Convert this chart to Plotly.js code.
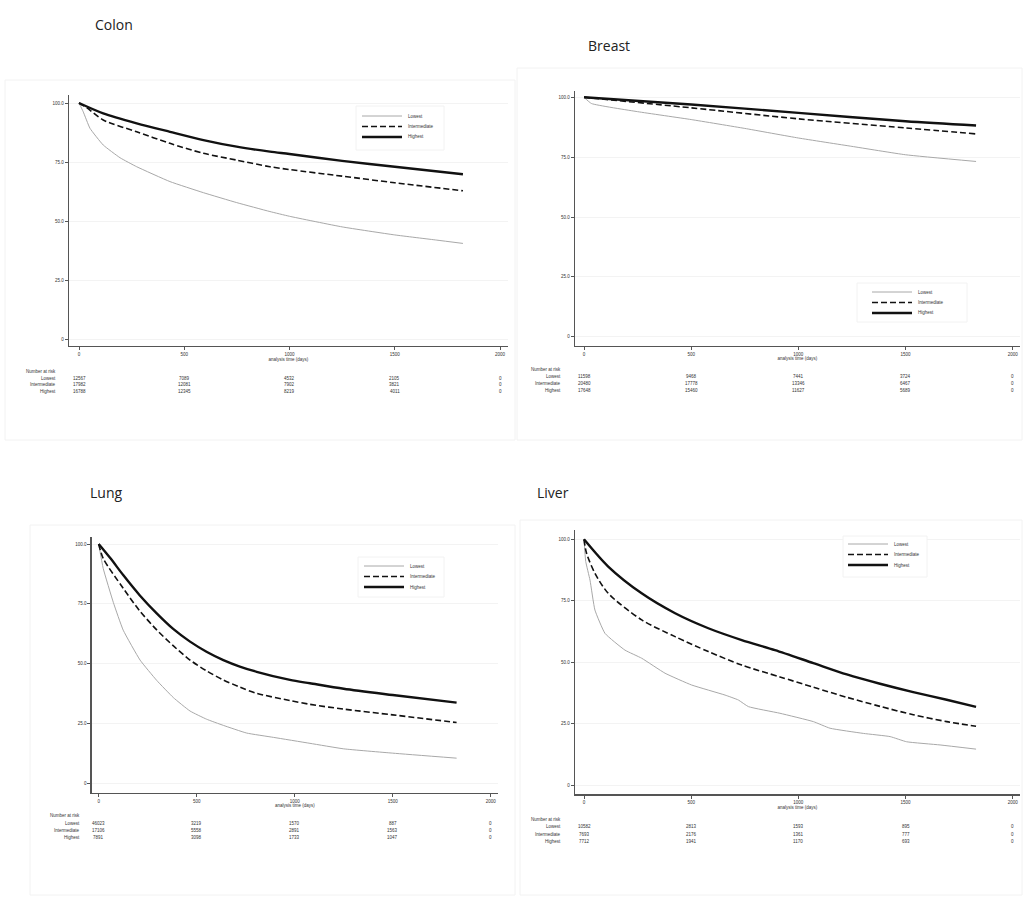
<!DOCTYPE html>
<html><head><meta charset="utf-8">
<script src="https://cdn.plot.ly/plotly-3.0.1.min.js"></script>
<style>html,body{margin:0;padding:0;background:#fff}#chart{width:1025px;height:902px}</style>
</head><body><div id="chart"></div>
<script>
// ---------- DATA ----------
const panelTitles = ["Colon", "Breast", "Lung", "Liver"];
const seriesNames = ["Lowest", "Intermediate", "Highest"];
const xTickVals = [0, 500, 1000, 1500, 2000];
const xTickText = ["0", "500", "1000", "1500", "2000"];
const yTickVals = [0, 25, 50, 75, 100];
const yTickText = ["0", "25.0", "50.0", "75.0", "100.0"];
const xTitleText = "analysis time (days)";
const riskHeader = "Number at risk";

// Colon
const colonLowDays  = [0, 20, 52, 115, 195, 274, 432, 591, 749, 907, 1000, 1250, 1500, 1700, 1824];
const colonLowSurv  = [100, 96.3, 89.3, 82.2, 76.8, 73, 66.7, 62, 57.8, 54, 52, 47.5, 44.1, 41.9, 40.5];
const colonMidDays  = [0, 40, 115, 274, 432, 591, 749, 907, 1000, 1250, 1500, 1824];
const colonMidSurv  = [100, 97.8, 92.8, 87.8, 82.9, 78.7, 75.8, 73, 71.8, 69, 66.2, 62.8];
const colonHighDays = [0, 115, 274, 432, 591, 749, 907, 1000, 1250, 1500, 1824];
const colonHighSurv = [100, 95.6, 91.4, 87.8, 84.3, 81.5, 79.4, 78.4, 75.5, 73, 69.8];
const colonRiskLow  = ["12567", "7089", "4532", "2105", "0"];
const colonRiskMid  = ["17982", "12081", "7902", "3821", "0"];
const colonRiskHigh = ["16788", "12345", "8219", "4011", "0"];

// Breast
const breastLowDays  = [0, 35, 250, 500, 750, 1000, 1250, 1500, 1829];
const breastLowSurv  = [100, 97.4, 94, 90.7, 87, 83, 79.5, 76, 73.2];
const breastMidDays  = [0, 500, 1000, 1500, 1829];
const breastMidSurv  = [100, 95.6, 91, 87.2, 84.7];
const breastHighDays = [0, 500, 1000, 1500, 1829];
const breastHighSurv = [100, 97, 93.5, 90, 88.2];
const breastRiskLow  = ["11598", "9468", "7441", "3724", "0"];
const breastRiskMid  = ["20480", "17778", "13346", "6467", "0"];
const breastRiskHigh = ["17648", "15460", "11627", "5689", "0"];

// Lung
const lungLowDays  = [0, 23, 75, 125, 211, 296, 381, 466, 550, 636, 755, 891, 1078, 1250, 1500, 1826];
const lungLowSurv  = [100, 89.8, 75.5, 64, 51.5, 43, 35.8, 30.2, 26.8, 24.2, 21, 19.2, 16.7, 14.4, 12.6, 10.5];
const lungMidDays  = [0, 23, 125, 210, 296, 380, 466, 550, 636, 720, 806, 976, 1078, 1250, 1500, 1826];
const lungMidSurv  = [100, 94, 81.5, 72, 64.1, 57.5, 51.5, 47, 43.2, 40.2, 37.6, 34.6, 33, 31, 28.6, 25.4];
const lungHighDays = [0, 60, 125, 210, 296, 380, 466, 550, 636, 720, 806, 976, 1078, 1250, 1500, 1826];
const lungHighSurv = [100, 94, 87, 78.5, 71, 64.5, 59.2, 55, 51.5, 48.8, 46.6, 43.2, 41.8, 39.5, 36.9, 33.7];
const lungRiskLow  = ["46023", "3219", "1570", "887", "0"];
const lungRiskMid  = ["17106", "5558", "2891", "1563", "0"];
const lungRiskHigh = ["7891", "3098", "1733", "1047", "0"];

// Liver
const liverLowDays  = [0, 8, 28, 51, 98, 191, 269, 378, 502, 658, 720, 767, 914, 1070, 1148, 1303, 1428, 1505, 1661, 1829];
const liverLowSurv  = [100, 91, 83.4, 71.2, 61.7, 54.9, 51.6, 45.5, 40.7, 36.6, 34.6, 31.9, 29.2, 25.8, 23.1, 21, 19.7, 17.6, 16.3, 14.6];
const liverMidDays  = [0, 12, 51, 113, 269, 425, 580, 736, 914, 1070, 1226, 1381, 1536, 1692, 1829];
const liverMidSurv  = [100, 94.3, 86.2, 78, 67.2, 60.4, 54.3, 48.8, 44, 39.8, 35.7, 32, 28.6, 25.8, 23.9];
const liverHighDays = [0, 113, 269, 425, 580, 736, 891, 1070, 1226, 1381, 1536, 1692, 1829];
const liverHighSurv = [100, 88.9, 78, 69.9, 63.8, 59, 54.9, 49.6, 45, 41.2, 37.8, 34.7, 31.8];
const liverRiskLow  = ["10582", "2813", "1593", "895", "0"];
const liverRiskMid  = ["7693", "2176", "1361", "777", "0"];
const liverRiskHigh = ["7712", "1941", "1170", "693", "0"];

// ---------- LAYOUT / STYLE ----------
const W = 1025, H = 902;
const panels = [
  {days:[colonLowDays,colonMidDays,colonHighDays], surv:[colonLowSurv,colonMidSurv,colonHighSurv], risk:[colonRiskLow,colonRiskMid,colonRiskHigh],
   g:{xL:69,xR:508,x0:79,x2000:500,yT:95,yB:346,y0:339,y100:103},
   title:{x:93,y:25}, box:{x0:5,x1:515,y0:80,y1:440},
   legend:{x:362,y:116,dy:10.5,box:[356,106,444,150]}, risk_:{labelX:58,header:372,rows:[378.5,385,391.7]}},
  {days:[breastLowDays,breastMidDays,breastHighDays], surv:[breastLowSurv,breastMidSurv,breastHighSurv], risk:[breastRiskLow,breastRiskMid,breastRiskHigh],
   g:{xL:575,xR:1020,x0:584,x2000:1012.7,yT:91,yB:345.7,y0:336.7,y100:97.3},
   title:{x:586,y:45}, box:{x0:517,x1:1022,y0:68,y1:440},
   legend:{x:872,y:292,dy:10.5,box:[857,283,967,322]}, risk_:{labelX:563,header:370,rows:[376.3,383.3,390.5]}},
  {days:[lungLowDays,lungMidDays,lungHighDays], surv:[lungLowSurv,lungMidSurv,lungHighSurv], risk:[lungRiskLow,lungRiskMid,lungRiskHigh],
   g:{xL:91.7,xR:498,x0:98.7,x2000:490.7,yT:537,yB:792.7,y0:783.3,y100:544},
   title:{x:88,y:493}, box:{x0:30,x1:515,y0:525,y1:895},
   legend:{x:364,y:566,dy:10.5,box:[358,557,444,597]}, risk_:{labelX:82,header:815,rows:[823.3,830.5,837.3]}},
  {days:[liverLowDays,liverMidDays,liverHighDays], surv:[liverLowSurv,liverMidSurv,liverHighSurv], risk:[liverRiskLow,liverRiskMid,liverRiskHigh],
   g:{xL:575,xR:1020,x0:584,x2000:1012.7,yT:530,yB:794.3,y0:785,y100:539.3},
   title:{x:535,y:493}, box:{x0:520,x1:1022,y0:520,y1:895},
   legend:{x:848,y:544,dy:10.5,box:[843,536,927,577]}, risk_:{labelX:563,header:819.3,rows:[826.7,834,841.3]}}
];
const lineStyles = [
  {color:"#a8a8a8", width:1, dash:"solid"},
  {color:"#111111", width:1.6, dash:"6px,3px"},
  {color:"#111111", width:2.4, dash:"solid"}
];
const lineShapes = [
  {shape:"spline", smoothing:0.4},
  {shape:"spline", smoothing:0.8},
  {shape:"spline", smoothing:0.8}
];
const tinyFont = {family:"Liberation Sans, Arial, sans-serif", size:4.5, color:"#333"};
const px = x => x / W, py = y => 1 - y / H;

const data = [];
const layout = {
  width:W, height:H, margin:{l:0,r:0,t:0,b:0},
  paper_bgcolor:"#fff", plot_bgcolor:"#fff", showlegend:false,
  shapes:[], annotations:[]
};

panels.forEach((p, i) => {
  const k = i === 0 ? "" : String(i + 1);
  const g = p.g;
  const sx = (g.x2000 - g.x0) / 2000;
  const sy = (g.y0 - g.y100) / 100;
  layout["xaxis" + k] = {
    domain:[px(g.xL), px(g.xR)], range:[(g.xL - g.x0) / sx, (g.xR - g.x0) / sx],
    anchor:"y" + k, showline:true, linecolor:"#555", linewidth:1.4, showgrid:false, zeroline:false,
    tickvals:xTickVals, ticktext:xTickText, ticks:"outside", ticklen:3, tickwidth:1, tickcolor:"#555",
    tickfont:tinyFont,
    title:{text:xTitleText, font:tinyFont, standoff:1}
  };
  layout["yaxis" + k] = {
    domain:[py(g.yB), py(g.yT)], range:[(g.y0 - g.yB) / sy, (g.y0 - g.yT) / sy],
    anchor:"x" + k, showline:true, linecolor:"#555", linewidth:1.4, showgrid:true, gridcolor:"#f3f3f3",
    zeroline:false, tickvals:yTickVals, ticktext:yTickText, ticks:"outside", ticklen:3, tickwidth:1,
    tickcolor:"#555", tickfont:tinyFont
  };
  for (let s = 0; s < 3; s++) {
    data.push({
      type:"scatter", mode:"lines", x:p.days[s], y:p.surv[s], name:seriesNames[s],
      xaxis:"x" + k, yaxis:"y" + k, line:Object.assign({}, lineShapes[s], lineStyles[s]),
      hoverinfo:"skip"
    });
  }
  // panel frame
  layout.shapes.push({type:"rect", xref:"paper", yref:"paper", x0:px(p.box.x0), x1:px(p.box.x1),
    y0:py(p.box.y1), y1:py(p.box.y0), line:{color:"#f2f2f2", width:1}, layer:"below"});
  // title
  layout.annotations.push({xref:"paper", yref:"paper", x:px(p.title.x), y:py(p.title.y), xanchor:"left",
    yanchor:"middle", showarrow:false, text:panelTitles[i],
    font:{family:"Open Sans, Noto Sans, sans-serif", size:14, color:"#222"}});
  // legend
  const L = p.legend;
  layout.shapes.push({type:"rect", xref:"paper", yref:"paper", x0:px(L.box[0]), x1:px(L.box[2]),
    y0:py(L.box[3]), y1:py(L.box[1]), line:{color:"#f2f2f2", width:1}, fillcolor:"#fff"});
  for (let s = 0; s < 3; s++) {
    const yy = L.y + s * L.dy;
    layout.shapes.push({type:"line", xref:"paper", yref:"paper", x0:px(L.x), x1:px(L.x + 40),
      y0:py(yy), y1:py(yy), line:lineStyles[s]});
    layout.annotations.push({xref:"paper", yref:"paper", x:px(L.x + 44), y:py(yy), xanchor:"left",
      yanchor:"middle", showarrow:false, text:seriesNames[s], font:tinyFont});
  }
  // number at risk
  const R = p.risk_;
  layout.annotations.push({xref:"paper", yref:"paper", x:px(R.labelX), y:py(R.header), xanchor:"right",
    yanchor:"middle", showarrow:false, text:riskHeader, font:tinyFont});
  for (let s = 0; s < 3; s++) {
    layout.annotations.push({xref:"paper", yref:"paper", x:px(R.labelX), y:py(R.rows[s]), xanchor:"right",
      yanchor:"middle", showarrow:false, text:seriesNames[s], font:tinyFont});
    xTickVals.forEach((tv, j) => {
      layout.annotations.push({xref:"x" + k, yref:"paper", x:tv, y:py(R.rows[s]), xanchor:"center",
        yanchor:"middle", showarrow:false, text:p.risk[s][j], font:tinyFont});
    });
  }
});

Plotly.newPlot("chart", data, layout, {staticPlot:true, displayModeBar:false});
</script>
</body></html>
